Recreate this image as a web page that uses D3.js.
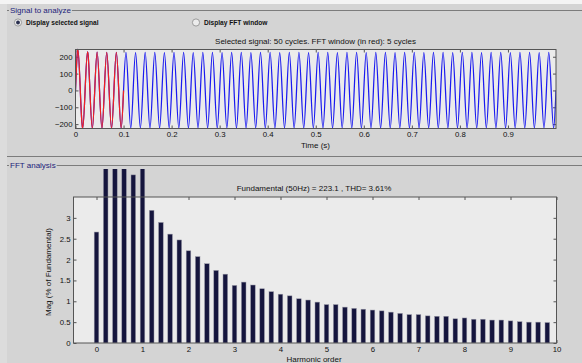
<!DOCTYPE html>
<html><head><meta charset="utf-8">
<script src="https://cdn.jsdelivr.net/npm/d3@7"></script>
<style>
body{margin:0;background:#d4d4d4;}
svg{display:block;font-family:"Liberation Sans",Arial,sans-serif;}
</style></head><body><svg id="c" width="582" height="363"></svg>
<script>
// Waveform: positive / negative peak of each 50 Hz cycle (1 s, 50 cycles)
const cyclePeaks = [243,229,227,226,226,226,225,226,226,225,226,226,225,226,226,225,226,226,225,226,
  226,225,226,226,225,226,226,225,226,226,225,226,226,225,226,226,225,226,226,225,
  226,226,225,226,226,225,226,226,225,226];
const cycleTroughs = [-222,-225,-226,-225,-224,-224,-223,-224,-224,-223,-224,-224,-223,-224,-224,-223,-224,-224,-223,-224,
  -224,-223,-224,-224,-223,-224,-224,-223,-224,-224,-223,-224,-224,-223,-224,-224,-223,-224,-224,-223,
  -224,-224,-223,-224,-224,-223,-224,-224,-223,-224];
const fundamentalHz = 50;
const fftWindowCycles = 5;
const timeTicks = [0,0.1,0.2,0.3,0.4,0.5,0.6,0.7,0.8,0.9];
const signalTicks = [-200,-100,0,100,200];

// FFT spectrum, magnitude in % of the fundamental
const harmonicOrder = [0,0.2,0.4,0.6,0.8,1,1.2,1.4,1.6,1.8,2,2.2,2.4,2.6,2.8,3,3.2,3.4,3.6,3.8,
  4,4.2,4.4,4.6,4.8,5,5.2,5.4,5.6,5.8,6,6.2,6.4,6.6,6.8,7,7.2,7.4,7.6,7.8,
  8,8.2,8.4,8.6,8.8,9,9.2,9.4,9.6,9.8];
const magnitude = [2.66,4.8,4.6,4.5,4.03,100,3.18,2.89,2.61,2.47,2.21,2.07,1.90,1.74,1.65,1.38,1.46,1.39,1.30,1.23,
  1.17,1.13,1.06,1.03,0.98,0.92,0.92,0.86,0.83,0.81,0.79,0.77,0.74,0.71,0.68,0.68,0.65,0.64,0.64,0.58,
  0.60,0.57,0.57,0.55,0.55,0.53,0.51,0.50,0.50,0.49];
const harmonicTicks = [0,1,2,3,4,5,6,7,8,9,10];
const magTicks = [0,0.5,1,1.5,2,2.5,3];
const fundamentalRms = 223.1, thdPercent = 3.61;

const svg = d3.select("#c");
const TXT = "#111", PANEL = "#23237a", EDGE = "#7c7c7c";

// window chrome
svg.append("rect").attr("width",582).attr("height",363).attr("fill","#d4d4d4");
svg.append("rect").attr("width",582).attr("height",4).attr("fill","#f4f4f4");
svg.append("rect").attr("y",4).attr("width",7).attr("height",359).attr("fill","#dcdcdc");

function panelTitle(label, y){
  const t = svg.append("text").attr("x",10).attr("y",y+3).attr("font-size","8px")
    .attr("fill",PANEL).text(label);
  const w = t.node().getComputedTextLength();
  svg.append("line").attr("x1",7).attr("x2",9).attr("y1",y+0.5).attr("y2",y+0.5).attr("stroke",EDGE);
  svg.append("line").attr("x1",10+w+1).attr("x2",582).attr("y1",y+0.5).attr("y2",y+0.5).attr("stroke",EDGE);
}
panelTitle("Signal to analyze", 10);
svg.append("line").attr("x1",7).attr("x2",582).attr("y1",156.5).attr("y2",156.5).attr("stroke",EDGE);
panelTitle("FFT analysis", 165);

// radio buttons
function radio(cx, label, on){
  const g = svg.append("g");
  g.append("circle").attr("cx",cx).attr("cy",22.5).attr("r",3.6)
    .attr("fill","#ececec").attr("stroke","#8a8a8a").attr("stroke-width",0.8);
  if(on) g.append("circle").attr("cx",cx).attr("cy",22.5).attr("r",1.9).attr("fill","#2a3050");
  g.append("text").attr("x",cx+8).attr("y",25).attr("font-size","6.6px").attr("font-weight","bold")
    .attr("fill",TXT).text(label);
}
radio(18,"Display selected signal",true);
radio(196,"Display FFT window",false);

// inward ticks on all four sides, frame drawn separately
function frameAxes(g, x, y, xt, yt, xfmt, yfmt, pad){
  const W = x.range()[1]-x.range()[0], H = y.range()[0]-y.range()[1];
  const x0 = x.range()[0], y0 = y.range()[1];
  g.append("rect").attr("x",x0).attr("y",y0).attr("width",W).attr("height",H).attr("fill","#ebebeb");
  const style = s => { s.select(".domain").remove();
    s.selectAll("line").attr("stroke","#555");
    s.selectAll("text").attr("fill",TXT).attr("font-size","7.8px").attr("font-family","Liberation Sans, Arial, sans-serif"); };
  g.append("g").attr("transform",`translate(0,${y0+H})`)
    .call(d3.axisBottom(x).tickValues(xt).tickSize(-3).tickPadding(pad).tickFormat(xfmt)).call(style);
  g.append("g").attr("transform",`translate(0,${y0})`)
    .call(d3.axisTop(x).tickValues(xt).tickSize(-3).tickFormat("")).call(style);
  g.append("g").attr("transform",`translate(${x0},0)`)
    .call(d3.axisLeft(y).tickValues(yt).tickSize(-3).tickPadding(3).tickFormat(yfmt)).call(style);
  g.append("g").attr("transform",`translate(${x0+W},0)`)
    .call(d3.axisRight(y).tickValues(yt).tickSize(-3).tickFormat("")).call(style);
}

// ---- time-domain signal ----
const xs = d3.scaleLinear().domain([0,1]).range([75.5,556]);
const ys = d3.scaleLinear().domain([d3.min(cycleTroughs), d3.max(cyclePeaks)]).range([128.5,49.5]);
const gs = svg.append("g");
frameAxes(gs, xs, ys, timeTicks, signalTicks, d3.format(""), d3.format(""), 3);

const T = 1/fundamentalHz;
const pts = [];
cyclePeaks.forEach((p,k)=>{
  const t0 = k*T;
  pts.push([t0,0],[t0+T/4,p],[t0+T/2,0],[t0+3*T/4,cycleTroughs[k]]);
});
pts.push([cyclePeaks.length*T,0]);
const line = d3.line().x(d=>xs(d[0])).y(d=>ys(d[1])).curve(d3.curveNatural);
svg.append("clipPath").attr("id","sigclip").append("rect")
  .attr("x",75.5).attr("y",48).attr("width",480.5).attr("height",82);
gs.append("path").attr("clip-path","url(#sigclip)").attr("d",line(pts))
  .attr("fill","none").attr("stroke","#1a1af0").attr("stroke-width",1.25);
gs.append("path").attr("clip-path","url(#sigclip)")
  .attr("d",line(pts.filter(d=>d[0] <= fftWindowCycles*T+1e-9)))
  .attr("fill","none").attr("stroke","#f02222").attr("stroke-width",1.25);
gs.append("rect").attr("x",75.5).attr("y",49.5).attr("width",480.5).attr("height",79)
  .attr("fill","none").attr("stroke","#555");
svg.append("text").attr("x",315.5).attr("y",44).attr("text-anchor","middle").attr("font-size","8px")
  .attr("fill",TXT).text(`Selected signal: ${cyclePeaks.length} cycles. FFT window (in red): ${fftWindowCycles} cycles`);
svg.append("text").attr("x",315.5).attr("y",148).attr("text-anchor","middle").attr("font-size","8px")
  .attr("fill",TXT).text("Time (s)");

// ---- FFT bar chart ----
const xh = d3.scaleLinear().domain([-0.5,10]).range([73.5,556.5]);
const yh = d3.scaleLinear().domain([0,3.5]).range([343,197]);
const gh = svg.append("g");
frameAxes(gh, xh, yh, harmonicTicks, magTicks, d3.format(""), d3.format(""), 3.5);
svg.append("clipPath").attr("id","barclip").append("rect")
  .attr("x",0).attr("y",169).attr("width",582).attr("height",174);
const bw = 4.6;
gh.append("g").attr("clip-path","url(#barclip)").selectAll("rect").data(harmonicOrder).join("rect")
  .attr("x",(d)=>xh(d)-bw/2).attr("width",bw)
  .attr("y",(d,i)=>yh(magnitude[i])).attr("height",(d,i)=>yh(0)-yh(magnitude[i]))
  .attr("fill","#15153d").attr("stroke","#9898a6").attr("stroke-width",0.5);
gh.append("rect").attr("x",73.5).attr("y",197).attr("width",483).attr("height",146)
  .attr("fill","none").attr("stroke","#555");
svg.append("text").attr("x",314).attr("y",191).attr("text-anchor","middle").attr("font-size","8px")
  .attr("fill",TXT).text(`Fundamental (50Hz) = ${fundamentalRms} , THD= ${thdPercent}%`);
svg.append("text").attr("transform","translate(50.5,272) rotate(-90)").attr("text-anchor","middle")
  .attr("font-size","8px").attr("fill",TXT).text("Mag (% of Fundamental)");
svg.append("text").attr("x",314).attr("y",362).attr("text-anchor","middle").attr("font-size","8px")
  .attr("fill",TXT).text("Harmonic order");
</script></body></html>
